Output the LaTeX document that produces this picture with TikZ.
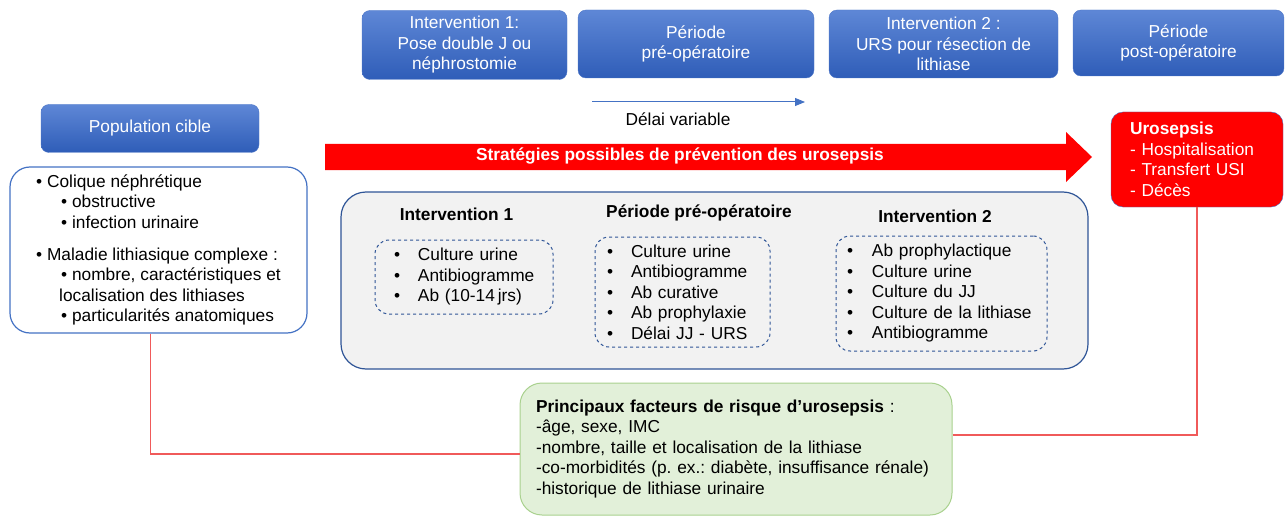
\documentclass[tikz,border=0pt]{standalone}
\usepackage{fontspec}
\setmainfont{Liberation Sans}
\usetikzlibrary{arrows.meta, positioning}
\frenchspacing

\definecolor{hdrtop}{HTML}{5E87D6}
\definecolor{hdrbot}{HTML}{2F5DB8}
\definecolor{hdredge}{HTML}{4F78C8}
\definecolor{boxblue}{HTML}{4472C4}
\definecolor{darkblue}{HTML}{2F5597}
\definecolor{lightgrey}{HTML}{F2F2F2}
\definecolor{riskfill}{HTML}{E2F0D9}
\definecolor{riskedge}{HTML}{A9D18E}
\definecolor{riskred}{HTML}{F05A5A}

\begin{document}
\begin{tikzpicture}[x=1pt, y=-1pt, font=\fontsize{17.3}{20.5}\selectfont,
    header/.style={draw=hdredge, rounded corners=8pt, top color=hdrtop, bottom color=hdrbot, text=white, align=center, inner sep=0pt},
    popbox/.style={draw=boxblue, line width=1.2pt, fill=white, rounded corners=20pt, align=left, inner sep=0pt},
    prevbox/.style={draw=darkblue, line width=1.2pt, fill=lightgrey, rounded corners=25pt},
    listbox/.style={draw=darkblue, dashed, line width=1pt, rounded corners=14pt, align=left, inner xsep=0pt},
    heading/.style={font=\fontsize{17.3}{20.5}\selectfont\bfseries},
    urobox/.style={draw=boxblue, fill=red, text=white, rounded corners=12pt, align=left, inner xsep=0pt},
    riskbox/.style={draw=riskedge, line width=1pt, fill=riskfill, rounded corners=22pt, align=left, inner xsep=0pt},
    riskline/.style={draw=riskred, line width=1.2pt},
    delai/.style={draw=boxblue, line width=1pt, -{Triangle[length=10pt, width=8pt]}}]
    \useasboundingbox (0,0) rectangle (1285,516);

    \node[header, minimum width=205pt, minimum height=69pt] (int1) at (464.5,45) {Intervention 1:\\Pose double J ou\\néphrostomie};
    \node[header, minimum width=236pt, minimum height=68pt] (preop) at (696,44) {Période\\pré-opératoire};
    \node[header, minimum width=229pt, minimum height=68pt] (int2) at (943.5,44) {Intervention 2 :\\URS pour résection de\\lithiase};
    \node[header, minimum width=211pt, minimum height=66pt] (postop) at (1178.5,43) {Période\\post-opératoire};

    \coordinate (delaiA) at (592,102);
    \coordinate (delaiB) at (805,102);
    \draw[delai] (delaiA) -- (delaiB);
    \node (delai) at (678,119) {Délai variable};

    \node[header, minimum width=218pt, minimum height=48pt] (popcible) at (150,128.5) {Population cible};
    \node[popbox, minimum width=297pt, minimum height=166pt] (pop) at (158.5,250) {%
        • Colique néphrétique\\
        \hspace*{25pt}• obstructive\\
        \hspace*{25pt}• infection urinaire\\[11.5pt]
        • Maladie lithiasique complexe :\\
        \hspace*{25pt}• nombre, caractéristiques et\\
        \hspace*{23pt}localisation des lithiases\\
        \hspace*{25pt}• particularités anatomiques};

    \fill[red] (325,144) -- (1066,144) -- (1066,132) -- (1092,157) -- (1066,182) -- (1066,170) -- (325,170) -- cycle;
    \node[heading, text=white] (strat) at (680,156) {Stratégies possibles de prévention des urosepsis};

    \node[urobox, minimum width=172pt, minimum height=95pt, text width=134pt] (uro) at (1197,159.5) {%
        \textbf{Urosepsis}\\- Hospitalisation\\- Transfert USI\\- Décès};

    \node[prevbox, minimum width=747pt, minimum height=177pt] (prev) at (714.5,280.5) {};
    \node[heading] (h1) at (456.5,214) {Intervention 1};
    \node[heading] (h2) at (699,213) {Période pré-opératoire};
    \node[heading] (h3) at (935,216) {Intervention 2};

    \node[listbox, minimum width=178pt, minimum height=74pt, text width=140pt] (list1) at (464,277) {%
        \makebox[24pt][l]{•}Culture urine\\
        \makebox[24pt][l]{•}Antibiogramme\\
        \makebox[24pt][l]{•}Ab (10-14\,jrs)};
    \node[listbox, minimum width=175pt, minimum height=110pt, text width=151pt] (list2) at (682.5,292) {%
        \makebox[24pt][l]{•}Culture urine\\
        \makebox[24pt][l]{•}Antibiogramme\\
        \makebox[24pt][l]{•}Ab curative\\
        \makebox[24pt][l]{•}Ab prophylaxie\\
        \makebox[24pt][l]{•}Délai JJ - URS};
    \node[listbox, minimum width=211pt, minimum height=115pt, text width=189pt] (list3) at (941.5,293.5) {%
        \makebox[25pt][l]{•}Ab prophylactique\\
        \makebox[25pt][l]{•}Culture urine\\
        \makebox[25pt][l]{•}Culture du JJ\\
        \makebox[25pt][l]{•}Culture de la lithiase\\
        \makebox[25pt][l]{•}Antibiogramme};

    \node[riskbox, minimum width=432pt, minimum height=132pt, text width=400pt] (risk) at (736,449) {%
        \textbf{Principaux facteurs de risque d’urosepsis} :\\
        -âge, sexe, IMC\\
        -nombre, taille et localisation de la lithiase\\
        -co-morbidités (p. ex.: diabète, insuffisance rénale)\\
        -historique de lithiase urinaire};

    \draw[riskline] ([xshift=-8pt]pop.south) |- ([yshift=-5pt]risk.west);
    \draw[riskline] ([yshift=14pt]risk.east) -| (uro.south);
\end{tikzpicture}
\end{document}
